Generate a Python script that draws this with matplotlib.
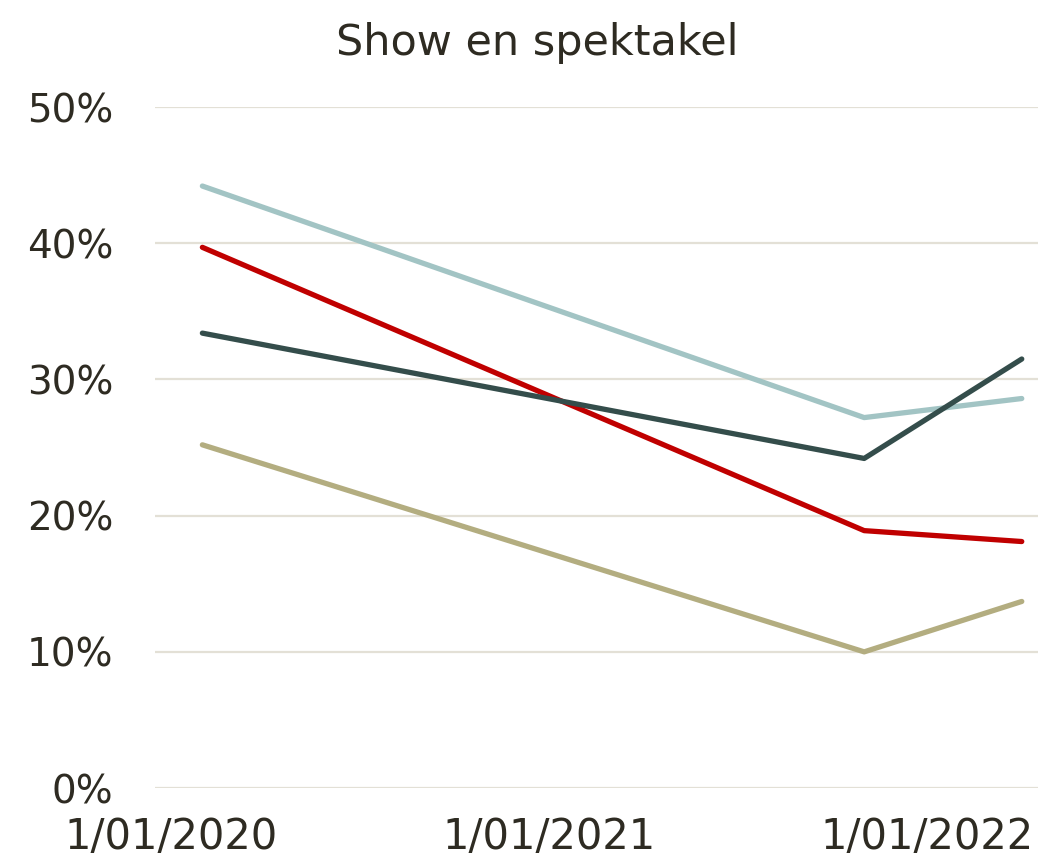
import matplotlib
matplotlib.use('Agg')

import pandas as pd
import matplotlib.pyplot as plt
from matplotlib.ticker import PercentFormatter

dates = ["2020-02-01", "2021-11-01", "2022-04-01"]
series_a = [0.442, 0.272, 0.286]   # light blue
series_b = [0.397, 0.189, 0.181]   # red
series_c = [0.334, 0.242, 0.315]   # dark green
series_d = [0.252, 0.100, 0.137]   # tan
tick_dates = ["2020-01-01", "2021-01-01", "2022-01-01"]
tick_labels = ["1/01/2020", "1/01/2021", "1/01/2022"]

start = pd.Timestamp("2020-01-01")


def month_index(d):
    d = pd.Timestamp(d)
    return (d.year - start.year) * 12 + (d.month - start.month)


x = [month_index(d) for d in dates]
ticks = [month_index(d) for d in tick_dates]

text_color = "#2e2b22"
plt.rcParams['font.family'] = ['DejaVu Sans']

fig = plt.figure(figsize=(10.48, 8.66), dpi=100)
ax = fig.add_axes([0.148, 0.090, 0.842, 0.7864])

for vals, col in [(series_a, "#a2c4c4"), (series_b, "#c00000"),
                  (series_c, "#344d4b"), (series_d, "#b3ad80")]:
    ax.plot(x, vals, color=col, linewidth=3.8, solid_capstyle="round",
            solid_joinstyle="round")

ax.set_xlim(-0.5, 27.5)
ax.set_ylim(0, 0.5)
ax.set_yticks([0, 0.1, 0.2, 0.3, 0.4, 0.5])
ax.yaxis.set_major_formatter(PercentFormatter(xmax=1, decimals=0))
ax.set_xticks(ticks)
ax.set_xticklabels(tick_labels)

ax.grid(axis="y", color="#e3e0d6", linewidth=1.6)
ax.set_axisbelow(True)
for s in ax.spines.values():
    s.set_visible(False)
ax.tick_params(axis="y", length=0, labelsize=28, colors=text_color, pad=30)
ax.tick_params(axis="x", length=0, labelsize=30, colors=text_color, pad=20)

fig.suptitle("Show en spektakel", fontsize=31, color=text_color, y=0.975, x=0.513)

fig.savefig("out.png", dpi=100)
